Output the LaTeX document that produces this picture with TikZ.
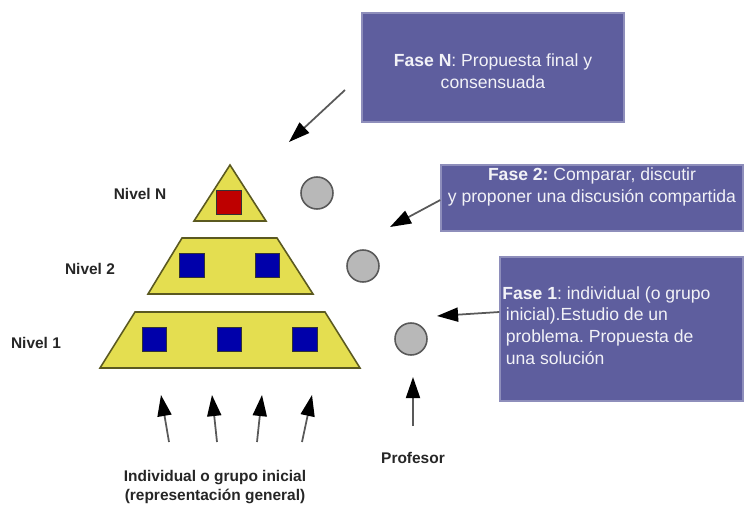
\documentclass[tikz,border=0pt]{standalone}
\usepackage{fontspec}
\setmainfont{Liberation Sans}
\usepackage{xcolor}
\usetikzlibrary{arrows.meta}
\frenchspacing

\definecolor{morado}{RGB}{94,94,158}
\definecolor{amarillo}{RGB}{228,222,80}
\definecolor{azul}{RGB}{0,0,170}
\definecolor{rojo}{RGB}{190,0,0}

\tikzset{
    caja/.style={draw=morado!70!white, fill=morado, line width=0.8pt, inner sep=0pt},
    textocaja/.style={text=white!92!morado, font=\fontsize{10}{12.4}\selectfont, inner sep=0pt},
    nivel/.style={font=\bfseries\fontsize{8.8}{11.3}\selectfont, text=black!85},
    cuadro/.style={draw=black!80, line width=0.7pt, minimum size=0.49cm, inner sep=0pt},
    circulo/.style={circle, draw=black!65, fill=black!28, line width=0.9pt, minimum size=0.64cm, inner sep=0pt},
    flecha/.style={draw=black!65, line width=1pt, -{Triangle[length=12pt,width=8pt,color=black]}},
    capa/.style={draw=black!60!amarillo, fill=amarillo, line width=0.9pt}
}

\begin{document}
\begin{tikzpicture}[x=0.02cm, y=-0.02cm]
        \useasboundingbox (0,0) rectangle (744,504);
        % Piramide
        \draw[capa] (230,165) -- (266,221) -- (194,221) -- cycle;
        \draw[capa] (182,238) -- (277,238) -- (313,294) -- (148,294) -- cycle;
        \draw[capa] (135,312) -- (325,312) -- (360,368) -- (100,368) -- cycle;
        % Grupos
        \node[cuadro, fill=rojo] (gN) at (229,202.5) {};
        \foreach \x [count=\i] in {192, 267.5}
        {
            \node[cuadro, fill=azul] (g2\i) at (\x,265.5) {};
        }
        \foreach \x [count=\i] in {154.5, 229.5, 305}
        {
            \node[cuadro, fill=azul] (g1\i) at (\x,339.5) {};
        }
        % Niveles
        \node[nivel] (nivN) at (140,194) {Nivel N};
        \node[nivel] (niv2) at (90,269) {Nivel 2};
        \node[nivel] (niv1) at (36,343) {Nivel 1};
        % Profesor
        \node[circulo] (pN) at (317,193) {};
        \node[circulo] (p2) at (363,266) {};
        \node[circulo] (p1) at (411,339) {};
        % Fases
        \node[caja, minimum width=5.24cm, minimum height=2.18cm] (cajaN) at (493,67.5) {};
        \node[textocaja, align=center] (faseN) at (493,71)
            {\textbf{Fase N}: Propuesta final y\\consensuada};
        \node[caja, minimum width=6.04cm, minimum height=1.32cm] (caja2) at (592,198) {};
        \node[textocaja, align=center] (fase2) at (592,187)
            {\textbf{Fase 2:} Comparar, discutir\\y proponer una discusión compartida};
        \node[caja, minimum width=4.86cm, minimum height=2.88cm] (caja1) at (621.5,329) {};
        \node[textocaja, align=left, anchor=west] (fase1) at (502,325.5)
            {\textbf{Fase 1}: individual (o grupo\\\hspace{2pt}inicial).Estudio de un\\\hspace{2pt}problema. Propuesta de\\\hspace{2pt}una solución};
        % Flechas
        \coordinate (colaN) at (345,90);
        \coordinate (puntaN) at (289,142);
        \coordinate (punta2) at (390,227);
        \coordinate (punta1) at (437,316);
        \coordinate (puntaP) at (413,377);
        \draw[flecha] (colaN) -- (puntaN);
        \draw[flecha] ([yshift=-0.04cm]caja2.west) -- (punta2);
        \draw[flecha] ([yshift=0.34cm]caja1.west) -- (punta1);
        % Abajo
        \node[nivel] (prof) at (413,458) {Profesor};
        \node[nivel, align=center] (grupo) at (215,487)
            {Individual o grupo inicial\\(representación general)};
        \draw[flecha] ([yshift=0.4cm]prof.north) -- (puntaP);
        \foreach \a/\b in {169/161, 217/212, 257/262, 302/312}
        {
            \draw[flecha] (\a,442) -- (\b,395);
        }
\end{tikzpicture}
\end{document}
